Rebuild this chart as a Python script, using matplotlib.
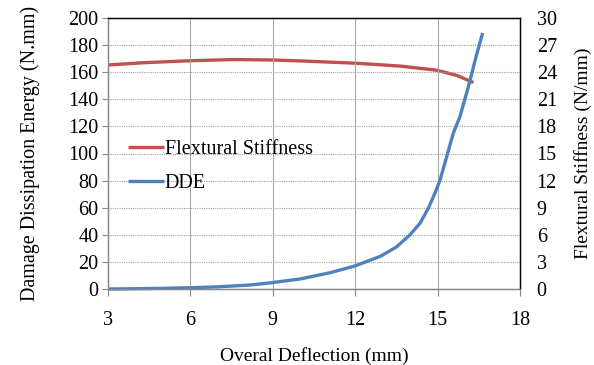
import numpy as np
import matplotlib.pyplot as plt

plt.rcParams['font.family'] = ['Liberation Serif', 'DejaVu Serif']

# DDE curve (left axis, N.mm)
dde_x = [3, 4, 5, 6, 7, 8.17, 8.9, 9.99, 11.08, 11.99, 12.9, 13.5, 13.99, 14.36, 14.66,
         14.9, 15.09, 15.33, 15.57, 15.81, 16.12, 16.4, 16.64]
dde_y = [0, 0.2, 0.5, 0.9, 1.6, 2.95, 4.5, 7.4, 12, 17, 24, 31, 39.9, 48.5, 59.5,
         70.6, 80.4, 97.6, 114.9, 127, 149.3, 171.4, 189]

# flextural stiffness (right axis, N/mm)
fs_x = [3.01, 4.29, 5.99, 7.56, 9.02, 9.99, 11.99, 13.63, 14.97, 15.69, 16.24, 16.3]
fs_y = [24.8, 25.05, 25.27, 25.4, 25.35, 25.25, 25.0, 24.68, 24.22, 23.65, 22.95, 22.85]

xticks = [3, 6, 9, 12, 15, 18]
lticks = list(range(0, 201, 20))
rticks = list(range(0, 31, 3))

fig = plt.figure(figsize=(5.94, 3.65), dpi=100)
ax = fig.add_axes([108/594, 1-289/365, 412/594, 271/365])
ax2 = ax.twinx()

ax.set_xlim(3, 18)
ax.set_ylim(0, 200)
ax2.set_ylim(0, 30)

ax.set_xticks(xticks)
ax.set_yticks(lticks)
ax2.set_yticks(rticks)

ax.grid(axis='y', color='#a0a0a0', linestyle=(0, (1, 1)), linewidth=0.8)
ax.grid(axis='x', color='#a8a8a8', linestyle='-', linewidth=0.8)
ax.set_axisbelow(True)

l1, = ax2.plot(fs_x, fs_y, color='#C0504D', linewidth=2.4, solid_capstyle='butt',
               solid_joinstyle='round')
l2, = ax.plot(dde_x, dde_y, color='#4F81BD', linewidth=2.4, clip_on=False,
              solid_capstyle='butt', solid_joinstyle='round')
ax.set_zorder(ax2.get_zorder() + 1)
ax.patch.set_visible(False)

for a in (ax, ax2):
    a.spines['top'].set_color('black')
    a.spines['right'].set_color('black')
    a.spines['left'].set_color('#888888')
    a.spines['bottom'].set_color('#888888')
    for s in a.spines.values():
        s.set_linewidth(0.9)

ax.tick_params(axis='x', direction='out', length=5, color='#888888', labelsize=14.5, pad=11)
ax.tick_params(axis='y', direction='out', length=4, color='#888888', labelsize=14.5, pad=3)
ax2.tick_params(axis='y', length=0, labelsize=14.5, pad=12)

ax.set_xlabel('Overal Deflection (mm)', fontsize=14, labelpad=12)
ax.set_ylabel('Damage Dissipation Energy (N.mm)', fontsize=14.5, labelpad=20)
ax2.set_ylabel('Flextural Stiffness (N/mm)', fontsize=14, labelpad=12)

leg = ax.legend([l1, l2], ['Flextural Stiffness', 'DDE'], loc='upper left',
                bbox_to_anchor=(0.03, 0.58), frameon=False, fontsize=14.5,
                handlelength=1.75, handletextpad=0.05, labelspacing=0.75,
                borderaxespad=0)

fig.savefig('out.png', dpi=100)
